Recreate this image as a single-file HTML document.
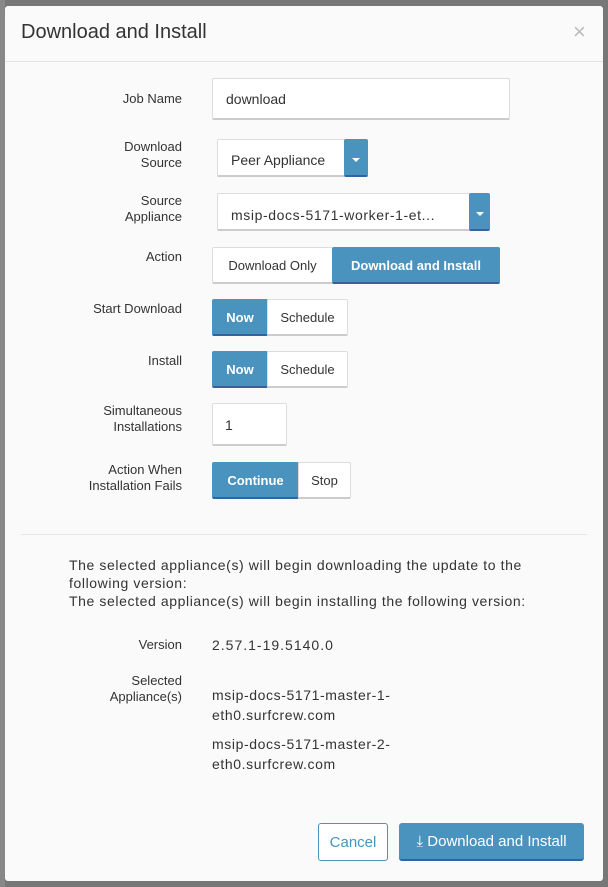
<!DOCTYPE html>
<html><head><meta charset="utf-8"><style>
*{box-sizing:border-box;margin:0;padding:0}
body{width:608px;height:887px;background:#777;position:relative;overflow:hidden;font-family:"Liberation Sans",sans-serif;color:#333}
.m{position:absolute;left:5px;top:6px;width:598px;height:875px;background:#fafafa;border-radius:3px}
.a{position:absolute}
.l{position:absolute;right:426px;text-align:right;font-size:13px;line-height:16px;color:#333}
.box{position:absolute;background:#fff;border:1px solid #ddd;border-bottom:2px solid #ccc;border-radius:2px}
.bl{background:#4a93be;color:#fff;font-weight:bold;border-color:#4a93be;border-bottom:2px solid #3561a0}
.btn{position:absolute;font-size:13px;display:flex;align-items:center;justify-content:center}
.car{position:absolute;width:0;height:0;border-left:4px solid transparent;border-right:4px solid transparent;border-top:4px solid #fff}
.t{position:absolute;font-size:14px;line-height:18px;color:#333}
.w{letter-spacing:0.6px}
.v{letter-spacing:1px}
</style></head><body>
<div class="a" style="left:0;top:0;width:5px;height:887px;background:#888"></div>
<div class="m"></div>
<div class="a" style="left:21px;top:21px;font-size:20px;color:#333">Download and Install</div>
<div class="a" style="left:573px;top:19px;font-size:22px;color:#bbb">×</div>
<div class="a" style="left:5px;top:61px;width:598px;height:1px;background:#e3e3e3"></div>

<div class="l" style="top:91px">Job Name</div>
<div class="box" style="left:212px;top:78px;width:298px;height:42px"></div>
<div class="t" style="left:226px;top:90px">download</div>

<div class="l" style="top:139px">Download<br>Source</div>
<div class="box" style="left:217px;top:139px;width:128px;height:38px"></div>
<div class="t" style="left:231px;top:151px">Peer Appliance</div>
<div class="box bl" style="left:344px;top:139px;width:24px;height:38px"></div>
<div class="car" style="left:352px;top:158px"></div>

<div class="l" style="top:193px">Source<br>Appliance</div>
<div class="box" style="left:217px;top:193px;width:253px;height:38px"></div>
<div class="t w" style="left:231px;top:206px">msip-docs-5171-worker-1-et...</div>
<div class="box bl" style="left:469px;top:193px;width:21px;height:38px"></div>
<div class="car" style="left:476px;top:212px"></div>

<div class="l" style="top:249px">Action</div>
<div class="box btn" style="left:212px;top:247px;width:121px;height:37px">Download Only</div>
<div class="box btn bl" style="left:332px;top:247px;width:168px;height:37px">Download and Install</div>

<div class="l" style="top:301px">Start Download</div>
<div class="box btn bl" style="left:212px;top:299px;width:56px;height:37px">Now</div>
<div class="box btn" style="left:267px;top:299px;width:81px;height:37px">Schedule</div>

<div class="l" style="top:353px">Install</div>
<div class="box btn bl" style="left:212px;top:351px;width:56px;height:37px">Now</div>
<div class="box btn" style="left:267px;top:351px;width:81px;height:37px">Schedule</div>

<div class="l" style="top:403px">Simultaneous<br>Installations</div>
<div class="box" style="left:212px;top:403px;width:75px;height:43px"></div>
<div class="t" style="left:225px;top:416px">1</div>

<div class="l" style="top:462px">Action When<br>Installation Fails</div>
<div class="box btn bl" style="left:212px;top:462px;width:87px;height:37px">Continue</div>
<div class="box btn" style="left:298px;top:462px;width:53px;height:37px">Stop</div>

<div class="a" style="left:21px;top:534px;width:566px;height:1px;background:#e6e6e6"></div>
<div class="t w" style="left:69px;top:556px">The selected appliance(s) will begin downloading the update to the<br>following version:<br>The selected appliance(s) will begin installing the following version:</div>

<div class="l" style="top:637px">Version</div>
<div class="t v" style="left:212px;top:636px">2.57.1-19.5140.0</div>
<div class="l" style="top:673px">Selected<br>Appliance(s)</div>
<div class="t w" style="left:212px;top:685px;line-height:20px">msip-docs-5171-master-1-<br>eth0.surfcrew.com</div>
<div class="t w" style="left:212px;top:734px;line-height:20px">msip-docs-5171-master-2-<br>eth0.surfcrew.com</div>

<div class="btn" style="left:318px;top:823px;width:70px;height:38px;border:1px solid #4a93be;border-radius:3px;background:#fff;color:#4a93be;font-size:15px">Cancel</div>
<div class="btn" style="left:399px;top:823px;width:185px;height:38px;background:#4a93be;border-bottom:2px solid #3561a0;border-radius:3px;color:#fff;font-size:15px">&#x2913;&nbsp;Download and Install</div>
</body></html>
